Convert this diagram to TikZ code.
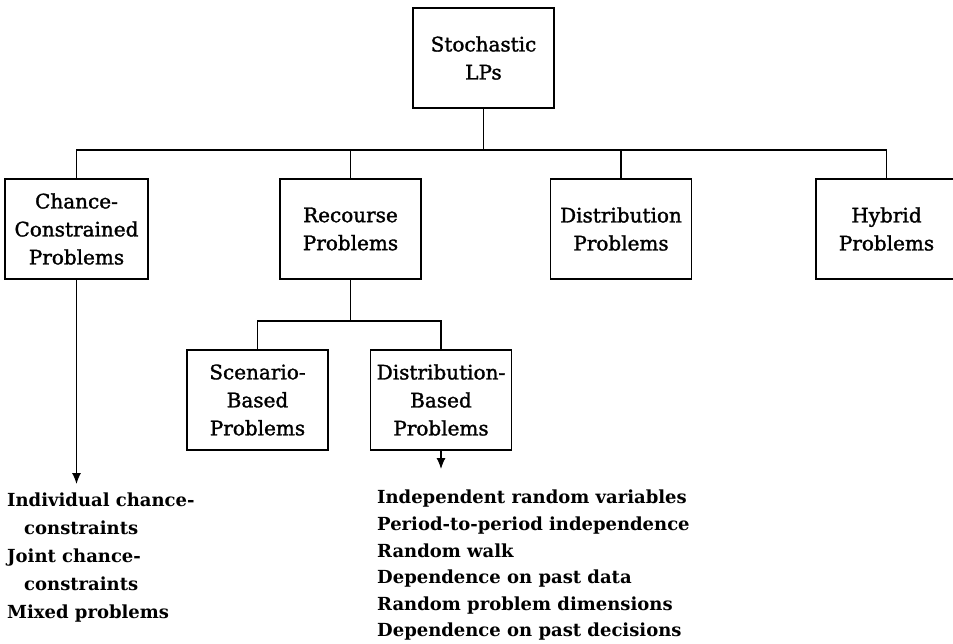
\documentclass[tikz,border=0pt]{standalone}
\usepackage{fontspec}
\setmainfont{DejaVu Serif}
\newfontfamily\boxfont[FakeBold=1.5]{DejaVu Serif}
\usetikzlibrary{arrows.meta}
\begin{document}
\begin{tikzpicture}[x=1pt,y=-1pt,
  box/.style={draw,line width=1.1pt,minimum width=141pt,minimum height=100pt,
    align=center,inner sep=0pt,font=\boxfont\fontsize{20}{28}\selectfont},
  conn/.style={line width=1.1pt},
  arr/.style={line width=1.1pt,-{Latex[length=11pt,width=9pt]}},
  listtext/.style={align=left,inner sep=0pt,anchor=north west,font=\bfseries\fontsize{18}{28}\selectfont}]
\useasboundingbox (0,0) rectangle (953,644);
\clip (0,0) rectangle (953,644);
\node[box] (root) at (483.5,58) {Stochastic\\LPs};
\node[box,minimum width=143pt] (cc) at (76.5,229) {Chance-\\Constrained\\Problems};
\node[box] (rec) at (350.5,229) {Recourse\\Problems};
\node[box] (dist) at (621,229) {Distribution\\Problems};
\node[box] (hyb) at (886.5,229) {Hybrid\\Problems};
\node[box] (scen) at (257.5,400) {Scenario-\\Based\\Problems};
\node[box] (db) at (441,400) {Distribution-\\Based\\Problems};
\coordinate (bus) at (483.5,150);
\coordinate (bus2) at (350.5,321);
\draw[conn] (root) -- (bus);
\draw[conn] (bus) -| (cc);
\draw[conn] (bus) -| (rec);
\draw[conn] (bus) -| (dist);
\draw[conn] (bus) -| (hyb);
\draw[conn] (rec) -- (bus2);
\draw[conn] (bus2) -| (scen);
\draw[conn] (bus2) -| (db);
\coordinate (cctip) at (76.5,484);
\coordinate (dbtip) at (441,469);
\draw[arr] (cc) -- (cctip);
\draw[arr] (db) -- (dbtip);
\node[listtext] (cclist) at (7,493) {Individual chance-\\\hspace*{17pt}constraints\\Joint chance-\\\hspace*{17pt}constraints\\Mixed problems};
\node[listtext,font=\bfseries\fontsize{18}{26.6}\selectfont] (dblist) at (377,490) {Independent random variables\\Period-to-period independence\\Random walk\\Dependence on past data\\Random problem dimensions\\Dependence on past decisions};
\end{tikzpicture}
\end{document}
